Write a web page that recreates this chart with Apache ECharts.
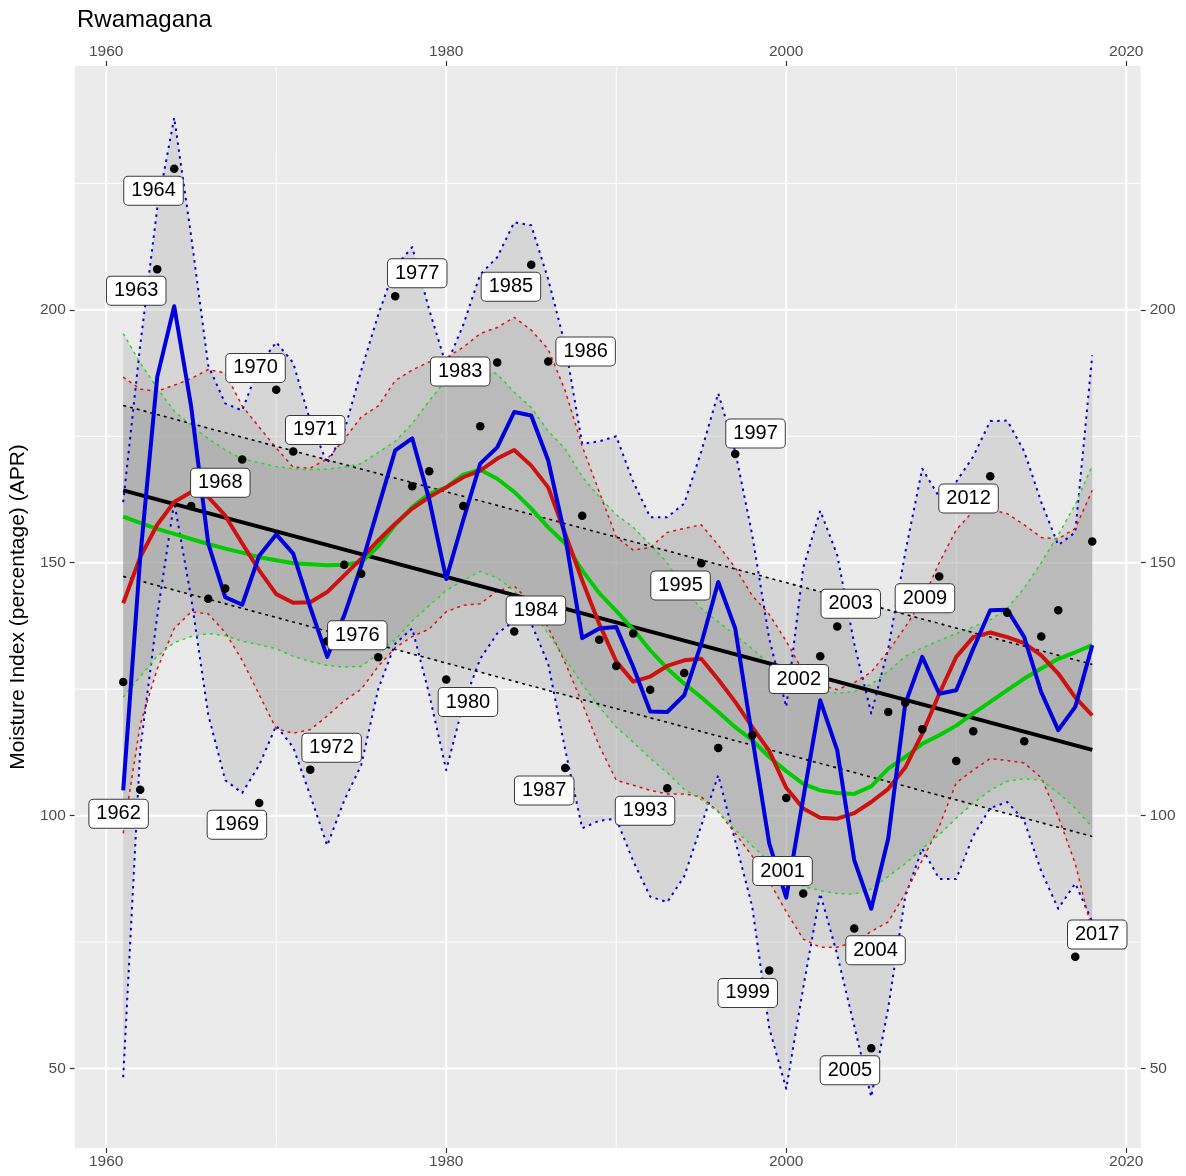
<!DOCTYPE html>
<html>
<head>
<meta charset="utf-8">
<script src="https://cdn.jsdelivr.net/npm/echarts@6/dist/echarts.min.js"></script>
<style>
html,body{margin:0;padding:0;background:#fff;}
#chart{width:1186px;height:1176px;}
</style>
</head>
<body>
<div id="chart"></div>
<script>
// ---------------- data ----------------
const years = [1961,1962,1963,1964,1965,1966,1967,1968,1969,1970,
  1971,1972,1973,1974,1975,1976,1977,1978,1979,1980,
  1981,1982,1983,1984,1985,1986,1987,1988,1989,1990,
  1991,1992,1993,1994,1995,1996,1997,1998,1999,2000,
  2001,2002,2003,2004,2005,2006,2007,2008,2009,2010,
  2011,2012,2013,2014,2015,2016,2017,2018];

const moisture = [126.4,105.1,208.0,227.9,161.2,142.9,144.9,170.4,102.5,184.2,
  172.0,109.1,134.5,149.6,147.8,131.3,202.7,165.1,168.1,126.9,
  161.2,177.0,189.6,136.4,208.9,189.8,109.4,159.3,134.8,129.6,
  136.0,124.9,105.4,128.2,149.9,113.4,171.5,115.9,69.4,103.5,
  84.6,131.5,137.4,77.7,54.0,120.5,122.3,117.1,147.3,110.8,
  116.7,167.1,140.1,114.7,135.4,140.6,72.1,154.2];

const blueFit = [105,151,186.7,200.7,180.8,153.8,143.2,141.7,151.4,155.6,
  151.8,141.2,131.4,139.6,149.4,160.9,172.2,174.6,162.5,146.8,
  158.4,169.6,172.8,179.8,179.1,170.2,155.1,135.1,137.0,137.3,
  129.4,120.6,120.5,123.8,134.0,146.2,137.0,115.5,94.5,83.8,
  103.4,122.8,112.9,91.2,81.6,95.5,122.1,131.4,124.1,124.8,
  133.0,140.6,140.7,135.3,124.4,116.9,121.5,133.7];
const blueUpper = [162,193,220,238,214.5,189,181.5,180.1,189,193.6,
  189.5,178,169.6,176,188,199,208.5,212.4,200,189,
  197,207,210.4,217.3,216.7,206,193,173.5,174,175,
  166,159,159,161.7,172,183.5,172,155.5,135,121.5,
  149,160.3,151.5,134,120.2,133,152,168.6,163,166,
  171,178,178.1,172,162,153.5,156,191];
const blueLower = [48.3,113,139.5,162,143,120,107,104.5,110,117.8,
  113.5,104,94.1,103,110,125,134,137,124,109,
  122,131,136,138.5,138,130,113,97.5,99,99.4,
  91,84,82.9,88,98,108,95,82,58,46,
  66,84.6,72.5,58.4,44.4,62,84,93.5,87.5,87.5,
  96,101.5,102.7,99,89,81.6,86.6,79];

const redFit = [142.0,151.1,157.5,162.0,164.0,163.0,159.3,153.8,148.5,143.8,
  142.1,142.2,144.2,147.5,150.8,154.4,157.7,160.7,163.0,164.9,
  166.9,168.2,170.6,172.3,169.2,164.9,155.7,146.5,137.9,130.5,
  126.5,127.5,129.6,130.7,131.0,126.9,122.5,117.5,112.8,105.5,
  101.4,99.6,99.4,100.5,102.7,105.3,109.5,116.2,124.1,131.4,
  135.3,136.2,135.3,134.1,131.7,128.1,123.4,119.8];
const redUpper = [186.7,184.3,183.9,185.1,186.4,188.2,187.5,181,176.8,172.7,
  168.9,168.7,170.5,174.4,178.8,181,186,188.1,189.7,190.5,
  192.6,195.3,196.5,198.5,196,192.2,184,173,164,155.1,
  152.5,153,156,156.8,157.5,153.5,149,143.5,139.8,134.5,
  128.5,125.8,124.9,126.3,128.4,132.5,137.3,142.5,150,156.5,
  160.2,160.5,159.7,157.5,155,154.7,156.8,164.3];
const redLower = [96.5,118,129,137,140.3,139.9,136.2,130.7,123.9,117.2,
  116.3,117,119.7,122.7,125,129.5,133.2,135.4,136.9,140.3,
  141.6,141.9,144.4,145.4,142,137.2,130.2,122.2,113.8,107,
  106,105,104.3,104.3,103.7,100.8,96.5,92,87,81,
  75.6,74,74,75,77.1,79,84.6,91.2,97.9,106.5,
  109,111.3,110.9,110.4,107.5,99.8,90.5,77];

const greenFit = [159.1,157.9,156.7,155.7,154.7,153.7,152.8,152,151.1,150.5,
  149.9,149.7,149.5,149.6,150.1,153.2,157.5,161.0,163.6,164.9,
  167.4,168.4,166.6,164.0,160.7,157.0,153.8,148.5,144.0,140.5,
  136.8,132.7,129.1,126.1,123.4,120.5,117.5,114.9,111.6,108.8,
  106.3,105,104.5,104.3,105.8,109.3,111.6,114.2,115.9,117.8,
  120.2,122.5,124.8,127.1,129.1,131.0,132.3,133.7];
const greenUpper = [195.3,189.5,184.5,180,177.2,174.5,172.3,170.5,169.8,169,
  168.6,168.4,168.5,168.9,169.6,171.8,174,177.5,182,186.2,
  188.2,188.6,187.3,183.7,180.7,176,172.5,167,163,159.5,
  157,153.6,150,144.5,141,138.3,135.7,133,130,127.7,
  125.5,124.7,124.2,124.5,126,128.5,131.5,133.2,134.6,136,
  137.3,138.7,141,145,150,155.5,161.5,169.2];
const greenLower = [123.4,127.5,131.5,134.2,135.4,136,135.6,134.5,133.8,133,
  131.5,130.5,129.7,129.4,129.5,132,134.8,138.5,141.5,144.5,
  146.5,148.3,147,144.5,140.5,136,131,126,121.5,117.5,
  114.5,111.3,108.5,105.2,103.2,100.7,97.2,94,91,88.5,
  86,85.2,84.6,84.5,85.5,88,90.5,93.5,96.2,99.5,
  102.5,105,106.8,107.3,107,104.5,101.5,97.7];

// linear trend and its band, read at the first and last year
const trendYears = [1961, 2018];
const trendFit = [164.3, 113.0];
const trendUpper = [181.1, 129.9];
const trendLower = [147.3, 95.9];

// labelled years
const labelYears = [1962,1963,1964,1968,1969,1970,1971,1972,1976,1977,1980,1983,1984,1985,1986,
  1987,1993,1995,1997,1999,2001,2002,2003,2004,2005,2009,2012,2017];

// axis ticks
const xMajor = [1960,1980,2000,2020];
const xMinor = [1970,1990,2010];
const yMajor = [50,100,150,200];
const yMinor = [75,125,175,225];

// ---------------- layout (pixel nudges of the label boxes) ----------------
const labelNudge = {
  1962:[-21.6,24],1963:[-21,21.3],1964:[-20.7,22],1968:[-21.9,23.2],1969:[-22.3,21.8],
  1970:[-20.7,-21.8],1971:[22,-21.5],1972:[21.4,-21.8],1976:[-20.9,-22],1977:[22,-22.9],
  1980:[21.7,22.5],1983:[-37,9],1984:[21.7,-21],1985:[-20.3,21.9],1986:[37.4,-9.9],
  1987:[-21,22.3],1993:[-22.2,22.5],1995:[-20.7,22.3],1997:[20.3,-20.5],1999:[-21.5,22.5],
  2001:[-20.7,-22.5],2002:[-21.4,22.8],2003:[13.5,-22.7],2004:[21.3,21.7],2005:[-21.3,21.9],
  2009:[-14.3,21.8],2012:[-21.7,22.3],2017:[22,-22.2]
};

const FONT = '"Liberation Sans", Arial, Helvetica, sans-serif';
const X_MIN = 1958.15, X_MAX = 2020.85, Y_MIN = 34.3, Y_MAX = 248.2;

function pairs(xs, ys){ return xs.map((x,i)=>[x, ys[i]]); }

function ribbonSeries(xs, upper, lower, z){
  return {
    type:'custom', coordinateSystem:'cartesian2d', silent:true, z:z, clip:true,
    data:[[xs[0], lower[0]]],
    renderItem:function(params, api){
      const pts = [];
      for(let i=0;i<xs.length;i++) pts.push(api.coord([xs[i], upper[i]]));
      for(let i=xs.length-1;i>=0;i--) pts.push(api.coord([xs[i], lower[i]]));
      return {type:'polygon', shape:{points:pts}, style:{fill:'#999999', opacity:0.26}};
    }
  };
}

function lineSeries(xs, ys, color, width, type, z){
  return {
    type:'line', data:pairs(xs, ys), showSymbol:false, symbol:'none', silent:true, z:z,
    lineStyle:{color:color, width:width, type:type, cap:'butt', join:'round'},
    emphasis:{disabled:true}
  };
}

const gridSeries = {
  type:'custom', coordinateSystem:'cartesian2d', silent:true, z:1,
  data:[[1990,150]],
  renderItem:function(params, api){
    const cs = params.coordSys;
    const ch = [];
    xMinor.forEach(v=>{ const p=api.coord([v,150]); ch.push({type:'line',shape:{x1:p[0],y1:cs.y,x2:p[0],y2:cs.y+cs.height},style:{stroke:'#ffffff',lineWidth:1}}); });
    yMinor.forEach(v=>{ const p=api.coord([1990,v]); ch.push({type:'line',shape:{x1:cs.x,y1:p[1],x2:cs.x+cs.width,y2:p[1]},style:{stroke:'#ffffff',lineWidth:1}}); });
    xMajor.forEach(v=>{ const p=api.coord([v,150]); ch.push({type:'line',shape:{x1:p[0],y1:cs.y,x2:p[0],y2:cs.y+cs.height},style:{stroke:'#ffffff',lineWidth:2}}); });
    yMajor.forEach(v=>{ const p=api.coord([1990,v]); ch.push({type:'line',shape:{x1:cs.x,y1:p[1],x2:cs.x+cs.width,y2:p[1]},style:{stroke:'#ffffff',lineWidth:2}}); });
    return {type:'group', children:ch};
  }
};

const labelSeries = {
  type:'custom', coordinateSystem:'cartesian2d', silent:true, z:10, clip:false,
  data: labelYears.map(y=>[y, moisture[years.indexOf(y)]]),
  renderItem:function(params, api){
    const yr = api.value(0);
    const p = api.coord([yr, api.value(1)]);
    const nd = labelNudge[yr] || [0,0];
    return {
      type:'text', x:p[0]+nd[0], y:p[1]+nd[1],
      style:{
        text:String(yr), fill:'#000000', fontSize:20, fontFamily:FONT,
        align:'center', verticalAlign:'middle',
        backgroundColor:'#ffffff', borderColor:'#3a3a3a', borderWidth:1, borderRadius:4,
        padding:[4,7,4,7], lineHeight:20
      }
    };
  }
};

function makeXAxis(pos){
  return {
    type:'value', position:pos, min:X_MIN, max:X_MAX,
    axisLine:{show:false},
    axisTick:{show:true, customValues:xMajor, length:5, lineStyle:{color:'#333333', width:1.2}},
    axisLabel:{customValues:xMajor, color:'#4D4D4D', fontSize:15.5, fontFamily:FONT, margin:6,
      formatter:function(v){return String(v);}},
    splitLine:{show:false}
  };
}
function makeYAxis(pos, withName){
  const a = {
    type:'value', position:pos, min:Y_MIN, max:Y_MAX,
    axisLine:{show:false},
    axisTick:{show:true, customValues:yMajor, length:5, lineStyle:{color:'#333333', width:1.2}},
    axisLabel:{customValues:yMajor, color:'#4D4D4D', fontSize:15.5, fontFamily:FONT, margin:9,
      formatter:function(v){return String(v);}},
    splitLine:{show:false}
  };
  if(withName){
    a.name = 'Moisture Index (percentage) (APR)';
    a.nameLocation = 'middle';
    a.nameRotate = 90;
    a.nameGap = 41;
    a.nameTextStyle = {color:'#000000', fontSize:21, fontFamily:FONT};
  }
  return a;
}

const option = {
  animation:false,
  backgroundColor:'#ffffff',
  title:{text:'Rwamagana', left:72, top:3, textStyle:{fontSize:24, fontWeight:'normal', color:'#000000', fontFamily:FONT}},
  grid:{left:73, right:45.3, top:66, bottom:28, show:true, backgroundColor:'#EBEBEB', borderWidth:0, containLabel:false},
  xAxis:[makeXAxis('bottom'), makeXAxis('top')],
  yAxis:[makeYAxis('left', true), makeYAxis('right', false)],
  series:[
    gridSeries,
    ribbonSeries(years, blueUpper, blueLower, 2),
    ribbonSeries(years, redUpper, redLower, 2),
    ribbonSeries(years, greenUpper, greenLower, 2),
    ribbonSeries(trendYears, trendUpper, trendLower, 2),
    lineSeries(years, blueUpper, '#0000E0', 2, [2.5,4.5], 3),
    lineSeries(years, blueLower, '#0000E0', 2, [2.5,4.5], 3),
    lineSeries(years, redUpper, '#E01010', 1.5, [3,4], 3),
    lineSeries(years, redLower, '#E01010', 1.5, [3,4], 3),
    lineSeries(years, greenUpper, '#22DD22', 1.5, [3,4], 3),
    lineSeries(years, greenLower, '#22DD22', 1.5, [3,4], 3),
    lineSeries(trendYears, trendUpper, '#000000', 1.6, [3,4], 3),
    lineSeries(trendYears, trendLower, '#000000', 1.6, [3,4], 3),
    lineSeries(trendYears, trendFit, '#000000', 4, 'solid', 4),
    lineSeries(years, greenFit, '#00CC00', 4, 'solid', 4),
    lineSeries(years, redFit, '#CC1111', 4, 'solid', 4),
    lineSeries(years, blueFit, '#0000DD', 4, 'solid', 4),
    {
      type:'scatter', data:pairs(years, moisture), symbolSize:8.5, silent:true, z:5,
      itemStyle:{color:'#000000', opacity:1}
    },
    labelSeries
  ]
};

const chart = echarts.init(document.getElementById('chart'), null, {renderer:'canvas'});
chart.setOption(option);
</script>
</body>
</html>
